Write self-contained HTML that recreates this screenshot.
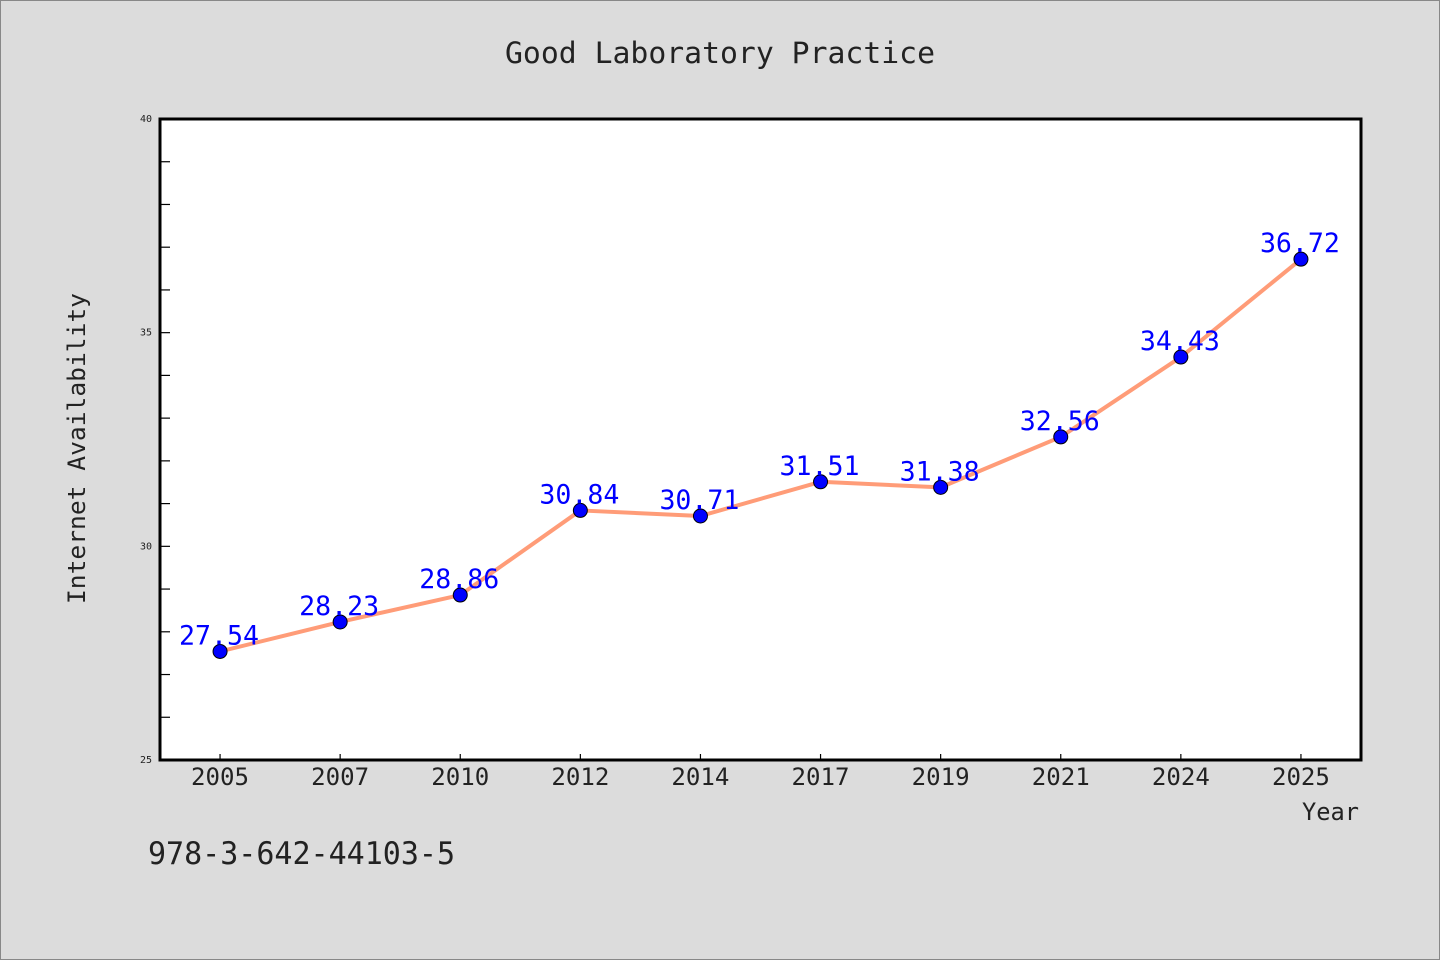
<!DOCTYPE html>
<html><head><meta charset="utf-8"><style>
body{margin:0;background:#dcdcdc;}
svg{display:block;font-family:"WenQuanYi Zen Hei Mono","WenQuanYi Zen Hei","DejaVu Sans Mono",monospace;}
</style></head><body>
<svg id="chart" width="1440" height="960" xmlns="http://www.w3.org/2000/svg">
<rect x="0.5" y="0.5" width="1439" height="959" fill="#dcdcdc" stroke="#888"/>
<text x="505" y="63" textLength="430" lengthAdjust="spacingAndGlyphs" font-size="29" fill="#222">Good Laboratory Practice</text>
<rect x="160" y="119" width="1201" height="641" fill="#fff"/>
<g id="marks"></g>
<rect x="160" y="119" width="1201" height="641" fill="none" stroke="#000" stroke-width="3"/>
<text transform="translate(85,604) rotate(-90)" textLength="311" lengthAdjust="spacingAndGlyphs" font-size="24" fill="#222">Internet Availability</text>
<text x="1302" y="820" textLength="57" lengthAdjust="spacingAndGlyphs" font-size="24" fill="#222">Year</text>
<text x="148" y="864" textLength="307" lengthAdjust="spacingAndGlyphs" font-size="31" fill="#222">978-3-642-44103-5</text>
</svg>
<script>
const categories = ["2005","2007","2010","2012","2014","2017","2019","2021","2024","2025"];
const values = [27.54,28.23,28.86,30.84,30.71,31.51,31.38,32.56,34.43,36.72];
const yTickLabels = [25,30,35,40];
const yMin = 25, yMax = 40;
const NS = "http://www.w3.org/2000/svg";
const L=160,R=1361,T=119,B=760;
const band=(R-L)/categories.length;
const xs=i=>L+band*(i+0.5);
const ys=v=>B-(v-yMin)/(yMax-yMin)*(B-T);
const g=document.getElementById('marks');
function mk(tag,attrs){const e=document.createElementNS(NS,tag);for(const k in attrs)e.setAttribute(k,attrs[k]);g.appendChild(e);return e;}
for(let v=yMin+1;v<yMax;v++){
  const t=mk('line',{x1:L,x2:L+10,y1:ys(v),y2:ys(v),stroke:'#000','stroke-width':1.2});
  
  
}
yTickLabels.forEach(v=>{
  const t=mk('text',{x:152,y:ys(v)+3,'text-anchor':'end','font-size':10,fill:'#222'});
  t.textContent=v;
  
  
});
categories.forEach((c,i)=>{
  const tk=mk('line',{x1:xs(i),x2:xs(i),y1:B,y2:B-6,stroke:'#000','stroke-width':1.2});
  
  
  const t=mk('text',{x:xs(i)-29,y:785,textLength:58,lengthAdjust:'spacingAndGlyphs','font-size':24,fill:'#222'});
  t.textContent=c;
  
  
});
const pl=mk('polyline',{points:values.map((v,i)=>xs(i)+','+ys(v)).join(' '),fill:'none',stroke:'#ff9c78','stroke-width':4,'stroke-linejoin':'round'});


values.forEach((v,i)=>{
  const c=mk('circle',{cx:xs(i),cy:ys(v),r:7,fill:'#0000ff',stroke:'#000','stroke-width':1});
  
  
});
values.forEach((v,i)=>{
  const t=mk('text',{x:xs(i)-41,y:ys(v)-7,textLength:80,lengthAdjust:'spacingAndGlyphs','font-size':27,fill:'#0000ff'});
  t.textContent=v.toFixed(2);
  
  
});
</script>
</body></html>
